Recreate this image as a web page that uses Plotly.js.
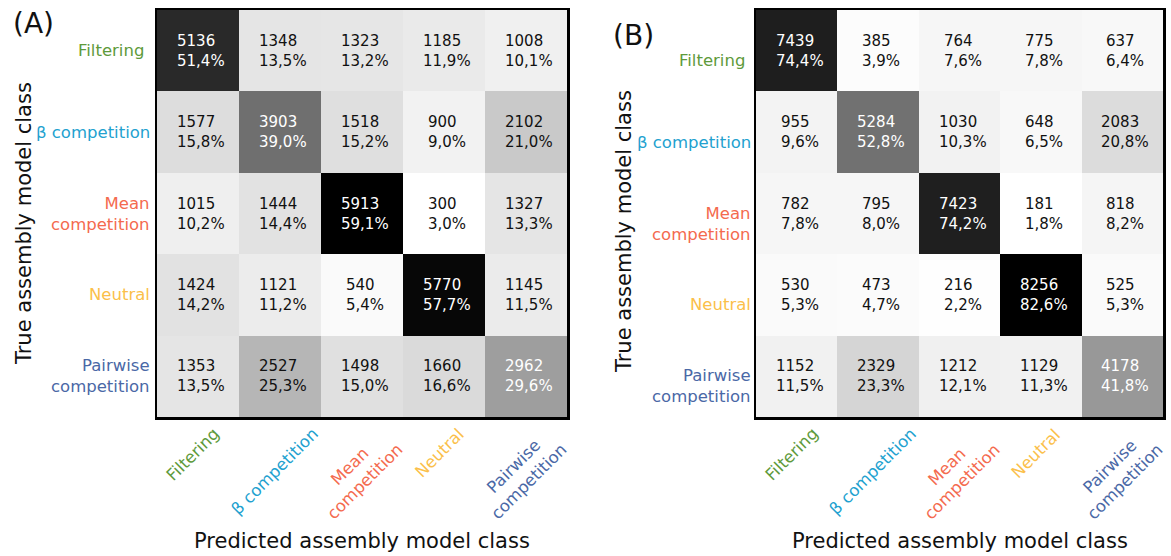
<!DOCTYPE html>
<html>
<head>
<meta charset="utf-8">
<script src="https://cdn.plot.ly/plotly-3.0.1.min.js"></script>
<style>html,body{margin:0;padding:0;background:#fff;}</style>
</head>
<body>
<div id="chart" style="width:1171px;height:556px;"></div>
<script>
// Class names (rows = true class, columns = predicted class)
const classLabels = ['Filtering', 'β competition', 'Mean<br>competition', 'Neutral', 'Pairwise<br>competition'];
const classColors = ['#5e9a3b', '#22a1cf', '#f46a4e', '#fbbf4a', '#4a68a6'];

// Panel A confusion matrix
const countsA = [
  [5136, 1348, 1323, 1185, 1008],
  [1577, 3903, 1518, 900, 2102],
  [1015, 1444, 5913, 300, 1327],
  [1424, 1121, 540, 5770, 1145],
  [1353, 2527, 1498, 1660, 2962]
];
const percentA = [
  [51.4, 13.5, 13.2, 11.9, 10.1],
  [15.8, 39.0, 15.2, 9.0, 21.0],
  [10.2, 14.4, 59.1, 3.0, 13.3],
  [14.2, 11.2, 5.4, 57.7, 11.5],
  [13.5, 25.3, 15.0, 16.6, 29.6]
];

// Panel B confusion matrix
const countsB = [
  [7439, 385, 764, 775, 637],
  [955, 5284, 1030, 648, 2083],
  [782, 795, 7423, 181, 818],
  [530, 473, 216, 8256, 525],
  [1152, 2329, 1212, 1129, 4178]
];
const percentB = [
  [74.4, 3.9, 7.6, 7.8, 6.4],
  [9.6, 52.8, 10.3, 6.5, 20.8],
  [7.8, 8.0, 74.2, 1.8, 8.2],
  [5.3, 4.7, 2.2, 82.6, 5.3],
  [11.5, 23.3, 12.1, 11.3, 41.8]
];

const panelLabels = ['(A)', '(B)'];
const yTitle = 'True assembly model class';
const xTitle = 'Predicted assembly model class';

// ---- layout geometry (pixels) ----
const W = 1171, H = 556;
const px = v => v / W;
const py = v => 1 - v / H;
const FONT = 'DejaVu Sans, sans-serif';

// matplotlib "Greys" colormap
const greys = [
  [0, '#ffffff'], [0.125, '#f0f0f0'], [0.25, '#d9d9d9'], [0.375, '#bdbdbd'],
  [0.5, '#969696'], [0.625, '#737373'], [0.75, '#525252'], [0.875, '#252525'], [1, '#000000']
];

const panels = [
  {counts: countsA, pct: percentA, xa: 'x', ya: 'y', left: 157, right: 567, top: 10, bottom: 417,
   label: panelLabels[0], labelX: 11, labelY: 24, titleX: 24, titleY: 224, rowShift: 0, rowGap: 5},
  {counts: countsB, pct: percentB, xa: 'x2', ya: 'y2', left: 756, right: 1163, top: 10, bottom: 417,
   label: panelLabels[1], labelX: 611, labelY: 35, titleX: 624, titleY: 232, rowShift: -10, rowGap: 3}
];

const idx = [0, 1, 2, 3, 4];
const fmtPct = v => v.toFixed(1).replace('.', ',') + '%';

const traces = [];
const annotations = [];
const layout = {
  width: W, height: H,
  margin: {l: 0, r: 0, t: 0, b: 0},
  paper_bgcolor: '#ffffff', plot_bgcolor: '#ffffff',
  font: {family: FONT, color: '#111111'},
  showlegend: false
};

panels.forEach((p, k) => {
  const flat = p.pct.flat();
  const zmin = Math.min(...flat), zmax = Math.max(...flat);
  traces.push({
    type: 'heatmap', x: idx, y: idx, z: p.pct,
    xaxis: p.xa, yaxis: p.ya,
    colorscale: greys, zmin: zmin, zmax: zmax,
    showscale: false, hoverinfo: 'skip'
  });

  const axKey = k === 0 ? '' : '2';
  const axisCommon = {
    showgrid: false, zeroline: false, showticklabels: false, ticks: '',
    showline: true, mirror: true, linecolor: '#000000', linewidth: 2.5, fixedrange: true
  };
  layout['xaxis' + axKey] = Object.assign({}, axisCommon, {
    domain: [px(p.left), px(p.right)], range: [-0.5, 4.5], anchor: p.ya
  });
  layout['yaxis' + axKey] = Object.assign({}, axisCommon, {
    domain: [py(p.bottom), py(p.top)], range: [4.5, -0.5], anchor: p.xa
  });

  // cell values
  p.counts.forEach((row, r) => {
    row.forEach((c, col) => {
      const v = p.pct[r][col];
      annotations.push({
        xref: p.xa, yref: p.ya, x: col, y: r, xshift: 3,
        text: c + '<br>' + fmtPct(v), showarrow: false, align: 'left',
        font: {family: FONT, size: 15, color: v > zmax / 2 ? '#ffffff' : '#111111'}
      });
    });
  });

  // row (true class) labels
  classLabels.forEach((t, i) => {
    annotations.push({
      xref: 'paper', yref: p.ya, x: px(p.left - p.rowGap), y: i,
      xanchor: 'right', yanchor: 'middle', align: 'right', yshift: p.rowShift,
      xshift: i === 0 ? -6 : 0,
      text: t, showarrow: false,
      font: {family: FONT, size: 16.5, color: classColors[i]}
    });
  });

  // column (predicted class) labels, rotated
  classLabels.forEach((t, i) => {
    annotations.push({
      xref: p.xa, yref: 'paper', x: i, y: py(p.bottom),
      xanchor: 'center', yanchor: 'top', yshift: -5, xshift: -5,
      textangle: -45, align: 'center',
      text: t, showarrow: false,
      font: {family: FONT, size: 16.5, color: classColors[i]}
    });
  });

  // axis titles
  annotations.push({
    xref: 'paper', yref: 'paper', x: px(p.titleX), y: py(p.titleY),
    xanchor: 'center', yanchor: 'middle', textangle: -90,
    text: yTitle, showarrow: false,
    font: {family: FONT, size: 21, color: '#111111'}
  });
  annotations.push({
    xref: 'paper', yref: 'paper', x: px((p.left + p.right) / 2), y: py(541),
    xanchor: 'center', yanchor: 'middle',
    text: xTitle, showarrow: false,
    font: {family: FONT, size: 21, color: '#111111'}
  });

  // panel letter
  annotations.push({
    xref: 'paper', yref: 'paper', x: px(p.labelX), y: py(p.labelY),
    xanchor: 'left', yanchor: 'middle',
    text: p.label, showarrow: false,
    font: {family: FONT, size: 28, color: '#111111'}
  });
});

layout.annotations = annotations;
Plotly.newPlot('chart', traces, layout, {displayModeBar: false, staticPlot: true});
</script>
</body>
</html>
